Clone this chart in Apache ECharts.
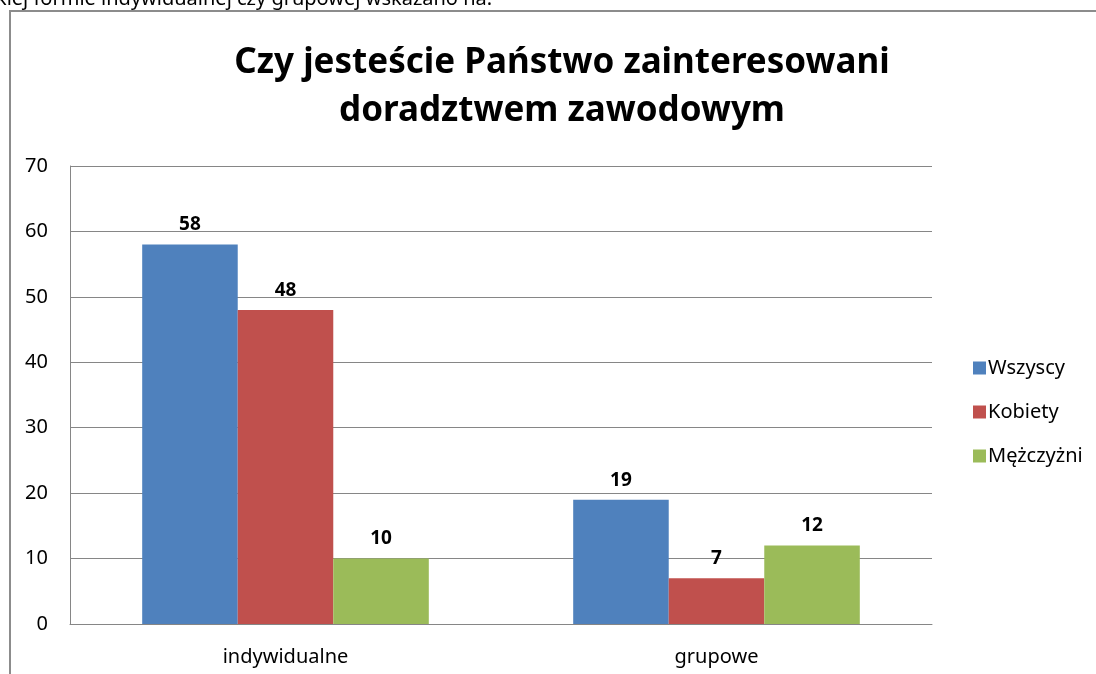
<!DOCTYPE html>
<html>
<head>
<meta charset="utf-8">
<script src="https://cdn.jsdelivr.net/npm/echarts@6/dist/echarts.min.js"></script>
<style>
  html, body { margin: 0; padding: 0; background: #fff; }
  #chart { width: 1096px; height: 674px; }
</style>
</head>
<body>
<div id="chart"></div>
<script>
// dane z wykresu
const categories = ['indywidualne', 'grupowe'];
const seriesNames = ['Wszyscy', 'Kobiety', 'Mężczyżni'];
const wszyscy = [58, 19];
const kobiety = [48, 7];
const mezczyzni = [10, 12];
const colors = ['#4F81BD', '#C0504D', '#9BBB59'];

const font = 'Noto Sans';
const chart = echarts.init(document.getElementById('chart'));

function bar(name, data, color) {
  return {
    name: name,
    type: 'bar',
    data: data,
    barGap: '0%',
    barCategoryGap: '33.5%',
    itemStyle: { color: color },
    label: {
      show: true,
      position: 'top',
      distance: 10,
      color: '#000',
      fontFamily: font,
      fontWeight: 'bold',
      fontSize: 19,
    },
  };
}

const option = {
  animation: false,
  backgroundColor: '#fff',
  title: {
    text: 'Czy jesteście Państwo zainteresowani\ndoradztwem zawodowym',
    left: 557,
    top: 34,
    textAlign: 'center',
    textStyle: {
      fontFamily: font,
      fontWeight: 'bold',
      fontSize: 35,
      lineHeight: 48,
      color: '#000',
    },
  },
  graphic: [
    { // ramka wykresu
      type: 'rect',
      shape: { x: 10, y: 11, width: 1200, height: 800 },
      style: { fill: 'none', stroke: '#8c8c8c', lineWidth: 2 },
      silent: true,
    },
    { // ucięty tekst nad wykresem
      type: 'text',
      left: -4,
      top: -11,
      style: {
        text: 'kiej formie indywidualnej czy grupowej wskazano na:',
        fontFamily: font,
        fontSize: 20,
        fill: '#000',
      },
    },
  ],
  legend: {
    orient: 'vertical',
    left: 968,
    top: 353,
    itemWidth: 13,
    itemHeight: 13,
    itemGap: 24,
    icon: 'rect',
    data: seriesNames,
    textStyle: { fontFamily: font, fontSize: 20, color: '#000', padding: [0, 0, 0, -3] },
  },
  grid: { left: 70, right: 164, top: 166, bottom: 50 },
  xAxis: {
    type: 'category',
    data: categories,
    axisLine: { lineStyle: { color: '#868686', width: 1 } },
    axisTick: { show: false },
    axisLabel: { fontFamily: font, fontSize: 20, color: '#000', margin: 23 },
  },
  yAxis: {
    type: 'value',
    min: 0,
    max: 70,
    interval: 10,
    axisLine: { show: true, lineStyle: { color: '#868686', width: 1 } },
    axisTick: { show: false },
    splitLine: { lineStyle: { color: '#868686', width: 1 } },
    axisLabel: { fontFamily: font, fontSize: 20, color: '#000', margin: 22 },
  },
  series: [
    bar(seriesNames[0], wszyscy, colors[0]),
    bar(seriesNames[1], kobiety, colors[1]),
    bar(seriesNames[2], mezczyzni, colors[2]),
  ],
};

chart.setOption(option);
</script>
</body>
</html>
